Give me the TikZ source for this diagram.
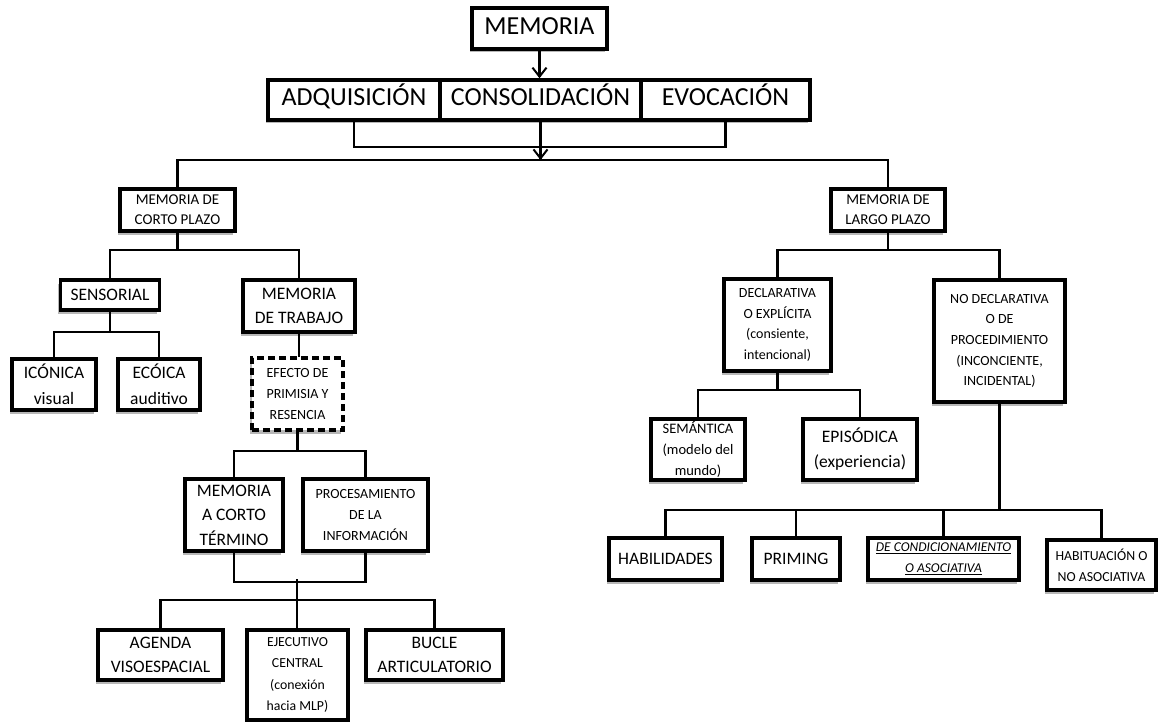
\documentclass[tikz,border=0pt]{standalone}
\usepackage{fontspec}
\setmainfont{Carlito}
\usetikzlibrary{shadows,arrows.meta}
\begin{document}
\begin{tikzpicture}[x=1pt,y=1pt,
  box/.style={draw, line width=3.5pt, fill=white, align=center, inner sep=0pt,
    drop shadow={shadow xshift=-2.5pt, shadow yshift=-3.5pt, opacity=.4, fill=black!70}},
  dbox/.style={box, dashed, dash pattern=on 7pt off 4pt},
  conn/.style={line width=2.3pt, line cap=rect},
  arr/.style={conn, -{Straight Barb[length=9pt,width=14pt,line width=2pt]}},
  fbig/.style={font=\fontsize{26}{30}\selectfont, text height=18pt, text depth=6pt},
  fmed/.style={font=\fontsize{17.5}{24}\selectfont},
  ftall/.style={font=\fontsize{17.5}{26}\selectfont},
  fmcp/.style={font=\fontsize{15}{20}\selectfont},
  fsm/.style={font=\fontsize{14}{20.7}\selectfont},
]
\useasboundingbox (0,0) rectangle (1159,-722);
% top
\node[box,fbig,minimum width=135,minimum height=41] (mem) at (539.5,-28.5) {MEMORIA};
\node[box,fbig,minimum width=172,minimum height=40] (adq) at (354,-100) {ADQUISICIÓN};
\node[box,fbig,minimum width=201,minimum height=40] (cons) at (540.5,-100) {CONSOLIDACIÓN};
\node[box,fbig,minimum width=169,minimum height=40] (evo) at (725.5,-100) {EVOCACIÓN};
\coordinate (hub) at (540,-160);
% level 2
\node[box,fmcp,minimum width=115,minimum height=42] (mcp) at (177.5,-210) {MEMORIA DE\\CORTO PLAZO};
\node[box,fmcp,minimum width=114,minimum height=42] (mlp) at (888,-210) {MEMORIA DE\\LARGO PLAZO};
% left branch
\node[box,fmed,minimum width=99,minimum height=30] (sens) at (110,-295) {SENSORIAL};
\node[box,fmed,minimum width=112,minimum height=52] (mdt) at (299,-306) {MEMORIA\\DE TRABAJO};
\node[box,ftall,minimum width=84,minimum height=51] (ico) at (54,-384.5) {ICÓNICA\\visual};
\node[box,ftall,minimum width=82,minimum height=51] (eco) at (159,-384.5) {ECÓICA\\auditivo};
\node[dbox,fsm,minimum width=91,minimum height=72] (efe) at (297.5,-394) {EFECTO DE\\PRIMISIA Y\\RESENCIA};
\node[box,font=\fontsize{17.5}{24.5}\selectfont,minimum width=98,minimum height=72] (mact) at (234,-515) {MEMORIA\\A CORTO\\TÉRMINO};
\node[box,fsm,minimum width=125,minimum height=72] (proc) at (365.5,-515) {PROCESAMIENTO\\DE LA\\INFORMACIÓN};
\node[box,fmed,minimum width=125,minimum height=50] (age) at (160.5,-655) {AGENDA\\VISOESPACIAL};
\node[box,font=\fontsize{13.8}{21.5}\selectfont,minimum width=101,minimum height=90] (eje) at (297.5,-675) {EJECUTIVO\\CENTRAL\\(conexión\\hacia MLP)};
\node[box,fmed,minimum width=137,minimum height=50] (buc) at (434.5,-655) {BUCLE\\ARTICULATORIO};
% right branch
\node[box,fsm,minimum width=107,minimum height=92] (dec) at (777.5,-325) {DECLARATIVA\\O EXPLÍCITA\\(consiente,\\intencional)};
\node[box,fsm,minimum width=131,minimum height=122] (nodec) at (999.5,-341) {NO DECLARATIVA\\O DE\\PROCEDIMIENTO\\(INCONCIENTE,\\INCIDENTAL)};
\node[box,font=\fontsize{14.5}{21}\selectfont,minimum width=94,minimum height=61] (sem) at (698,-449.5) {SEMÁNTICA\\(modelo del\\mundo)};
\node[box,font=\fontsize{17.5}{25}\selectfont,minimum width=114,minimum height=61] (epi) at (860,-449.5) {EPISÓDICA\\(experiencia)};
\node[box,fmed,minimum width=113,minimum height=42] (hab) at (665.5,-559) {HABILIDADES};
\node[box,fmed,minimum width=88,minimum height=42] (pri) at (796,-559) {PRIMING};
\node[box,font=\fontsize{13.5}{21}\selectfont,minimum width=151,minimum height=42] (cond) at (943.5,-559) {\underline{\textit{DE CONDICIONAMIENTO}}\\\underline{\textit{O ASOCIATIVA}}};
\node[box,font=\fontsize{13.8}{21}\selectfont,minimum width=109,minimum height=50] (habit) at (1101.5,-565) {HABITUACIÓN O\\NO ASOCIATIVA};
% connectors top
\draw[arr] (mem.south) -- (mem.south |- cons.north);
\draw[conn] (adq.south) -- ++(0,-25) -| (evo.south);
\draw[arr] (cons.south) -- (cons.south |- hub);
\draw[conn] (mcp.north) |- (hub) -| (mlp.north);
% left connectors
\draw[conn] (mcp.south) -- ++(0,-17) coordinate (j1);
\draw[conn] (sens.north) |- (j1) -| (mdt.north);
\draw[conn] (sens.south) -- ++(0,-20) coordinate (j2);
\draw[conn] (ico.north) |- (j2) -| (eco.north);
\draw[conn] (mdt.south) -- (mdt.south |- efe.north);
\draw[conn] (efe.south) -- ++(0,-19) coordinate (j3);
\draw[conn] (mact.north) |- (j3) -| (proc.north);
\draw[conn] (mact.south) -- ++(0,-29) coordinate (j4) -| (proc.south);
\coordinate (j5) at (297,-580);
\coordinate (j6) at (297,-600);
\draw[conn] (j5) -- (j5 |- eje.north);
\draw[conn] (age.north) |- (j6) -| (buc.north);
% right connectors
\draw[conn] (mlp.south) -- ++(0,-17) coordinate (k1);
\draw[conn] (dec.north) |- (k1) -| (nodec.north);
\draw[conn] (dec.south) -- ++(0,-17) coordinate (k2);
\draw[conn] (sem.north) |- (k2) -| (epi.north);
\draw[conn] (nodec.south) -- ++(0,-106) coordinate (k3);
\draw[conn] (hab.north) |- (k3) -| (habit.north);
\draw[conn] (pri.north) -- (pri.north |- k3);
\draw[conn] (cond.north) -- (cond.north |- k3);
\end{tikzpicture}
\end{document}
